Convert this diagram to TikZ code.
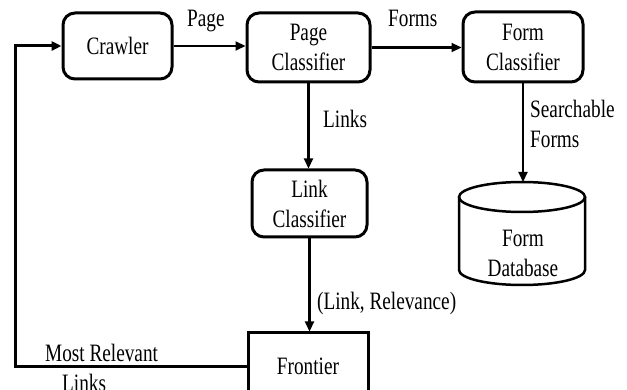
\documentclass[tikz,border=0pt]{standalone}
\usepackage{fontspec}
\setmainfont{Liberation Serif}[FakeStretch=0.77]
\usetikzlibrary{arrows.meta}
\begin{document}
\begin{tikzpicture}[x=1pt,y=-1pt,
  every node/.style={font=\fontsize{25}{30}\selectfont},
  rbox/.style={draw, line width=3pt, rounded corners=12pt, align=center, inner sep=0pt},
  conn/.style={line width=2.2pt, -{Triangle[length=10pt,width=9pt]}},
  lbl/.style={anchor=base west, inner sep=0pt}]
\useasboundingbox (0,0) rectangle (627,390);
\clip (0,0) rectangle (627,390);

\node[rbox, minimum width=109pt, minimum height=66pt] (crawler) at (117.5,46) {Crawler};
\node[rbox, minimum width=123pt, minimum height=69pt] (pagec) at (308.5,47.5) {Page\\Classifier};
\node[rbox, minimum width=120pt, minimum height=70pt] (formc) at (523,47) {Form\\Classifier};
\node[rbox, minimum width=115pt, minimum height=67pt] (linkc) at (309.5,203.5) {Link\\Classifier};
\node[draw, line width=3pt, minimum width=120pt, minimum height=66pt, inner sep=0pt] (frontier) at (308,366) {Frontier};

% database cylinder
\draw[line width=2.5pt] (522,197) ellipse[x radius=63, y radius=15];
\draw[line width=2.5pt] (459,197) -- (459,270) arc[start angle=180, end angle=0, x radius=63, y radius=15] -- (585,197);
\node[align=center, inner sep=0pt] (db) at (523,253) {Form\\Database};
\coordinate (dbtop) at (522,182);

% connectors
\draw[conn] (crawler.east) -- (crawler.east -| pagec.west);
\draw[conn] (pagec.east) -- (pagec.east -| formc.west);
\draw[conn] (pagec.south) -- (pagec.south |- linkc.north);
\draw[conn] (formc.south) -- (formc.south |- dbtop);
\draw[conn] (linkc.south) -- (linkc.south |- frontier.north);
\coordinate (fb) at (15,0);
\draw[conn, line width=3pt] (frontier.west) -- (frontier.west -| fb) |- (crawler.west);

% labels
\node[lbl] (lpage) at (187,27) {Page};
\node[lbl] (lforms) at (388,27) {Forms};
\node[lbl] (llinks) at (323,128) {Links};
\node[lbl] (lsearch) at (530,118) {Searchable};
\node[lbl] (lsforms) at (530,148) {Forms};
\node[lbl] (lrel) at (317,310) {(Link, Relevance)};
\node[lbl] (lmost) at (45,361) {Most Relevant};
\node[lbl] (lmlinks) at (62,391) {Links};
\end{tikzpicture}
\end{document}
